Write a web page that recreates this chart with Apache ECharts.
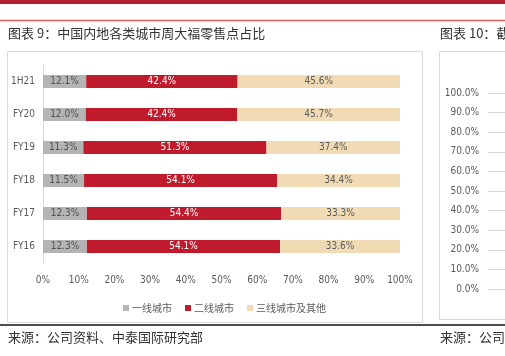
<!DOCTYPE html>
<html><head><meta charset="utf-8">
<script src="https://cdn.jsdelivr.net/npm/echarts@6/dist/echarts.min.js"></script>
<style>html,body{margin:0;padding:0;background:#fff}#c{width:505px;height:356px}</style>
</head><body><div id="c"></div>
<script>
var categories = ['1H21','FY20','FY19','FY18','FY17','FY16'];
var tier1 = [12.1, 12.0, 11.3, 11.5, 12.3, 12.3];
var tier2 = [42.4, 42.4, 51.3, 54.1, 54.4, 54.1];
var tier3 = [45.6, 45.7, 37.4, 34.4, 33.3, 33.6];
var seriesNames = ['一线城市','二线城市','三线城市及其他'];
var xTicks = [0,10,20,30,40,50,60,70,80,90,100];
var rightTicks = [0,10,20,30,40,50,60,70,80,90,100];

var CJK = '"Noto Sans CJK SC", sans-serif';
var NUM = '"Liberation Sans Narrow","DejaVu Sans Condensed","Liberation Sans", sans-serif';
var colors = ['#b4b4b4','#bf1b2c','#f0dbb5'];
var labelColors = ['#505050','#ffffff','#5a5a5a'];

function mk(name, data, i){
  return {
    name: name, type: 'bar', stack: 'a', data: data, barWidth: 13,
    xAxisIndex: 0, yAxisIndex: 0,
    itemStyle: {color: colors[i]},
    label: {show: true, position: 'inside', color: labelColors[i], fontFamily: NUM, fontSize: 10,
      formatter: function(p){ return p.value.toFixed(1) + '%'; }}
  };
}

var chart = echarts.init(document.getElementById('c'), null, {renderer:'canvas'});
chart.setOption({
  animation: false,
  textStyle: {fontFamily: NUM},
  grid: [
    {left: 43, top: 65, width: 357, height: 198, containLabel: false, outerBoundsMode: 'none'},
    {left: 488, top: 93, width: 100, height: 196, containLabel: false, outerBoundsMode: 'none'}
  ],
  xAxis: [
    {type: 'value', gridIndex: 0, min: 0, max: 100, interval: 10,
     axisLine: {show: false}, axisTick: {show: false}, splitLine: {show: false},
     axisLabel: {color: '#595959', fontSize: 10, margin: 12, fontFamily: NUM, formatter: '{value}%'}},
    {type: 'category', gridIndex: 1, data: [''], show: false}
  ],
  yAxis: [
    {type: 'category', gridIndex: 0, data: categories, inverse: true,
     axisLine: {show: true, lineStyle: {color: '#d9d9d9'}}, axisTick: {show: false},
     axisLabel: {color: '#595959', fontSize: 10, margin: 8, fontFamily: NUM}},
    {type: 'value', gridIndex: 1, min: 0, max: 100, interval: 10,
     axisLine: {show: false}, axisTick: {show: false},
     splitLine: {show: true, lineStyle: {color: '#d9d9d9'}},
     axisLabel: {color: '#595959', fontSize: 10, margin: 9, fontFamily: NUM,
       formatter: function(v){ return v.toFixed(1) + '%'; }}}
  ],
  legend: {
    left: 118, top: 298, itemWidth: 6, itemHeight: 6, itemGap: 13, icon: 'rect',
    textStyle: {color: '#595959', fontSize: 10, fontFamily: CJK, padding: [0,0,0,-2]},
    data: seriesNames
  },
  series: [
    mk(seriesNames[0], tier1, 0),
    mk(seriesNames[1], tier2, 1),
    mk(seriesNames[2], tier3, 2),
    {type: 'bar', xAxisIndex: 1, yAxisIndex: 1, data: [], silent: true}
  ],
  graphic: [
    {type: 'rect', shape: {x: 0, y: 0, width: 505, height: 4}, style: {fill: '#b51f30'}},
    {type: 'line', shape: {x1: 0, y1: 20.5, x2: 505, y2: 20.5}, style: {stroke: '#d9605c', lineWidth: 1.5}},
    {type: 'text', x: 8, y: 27, style: {text: '图表 9：中国内地各类城市周大福零售点占比', fill: '#333', font: '13px "Noto Sans CJK SC"'}},
    {type: 'text', x: 440, y: 27, style: {text: '图表 10：截至', fill: '#333', font: '13px "Noto Sans CJK SC"'}},
    {type: 'rect', shape: {x: 7.5, y: 51.5, width: 415, height: 271}, style: {fill: 'none', stroke: '#d9d9d9', lineWidth: 1}},
    {type: 'rect', shape: {x: 439.5, y: 51.5, width: 90, height: 268}, style: {fill: 'none', stroke: '#d9d9d9', lineWidth: 1}},
    {type: 'line', shape: {x1: 0, y1: 325, x2: 505, y2: 325}, style: {stroke: '#111', lineWidth: 1.6}},
    {type: 'text', x: 8, y: 331, style: {text: '来源：公司资料、中泰国际研究部', fill: '#333', font: '13px "Noto Sans CJK SC"'}},
    {type: 'text', x: 440, y: 331, style: {text: '来源：公司', fill: '#333', font: '13px "Noto Sans CJK SC"'}}
  ]
});
</script></body></html>
